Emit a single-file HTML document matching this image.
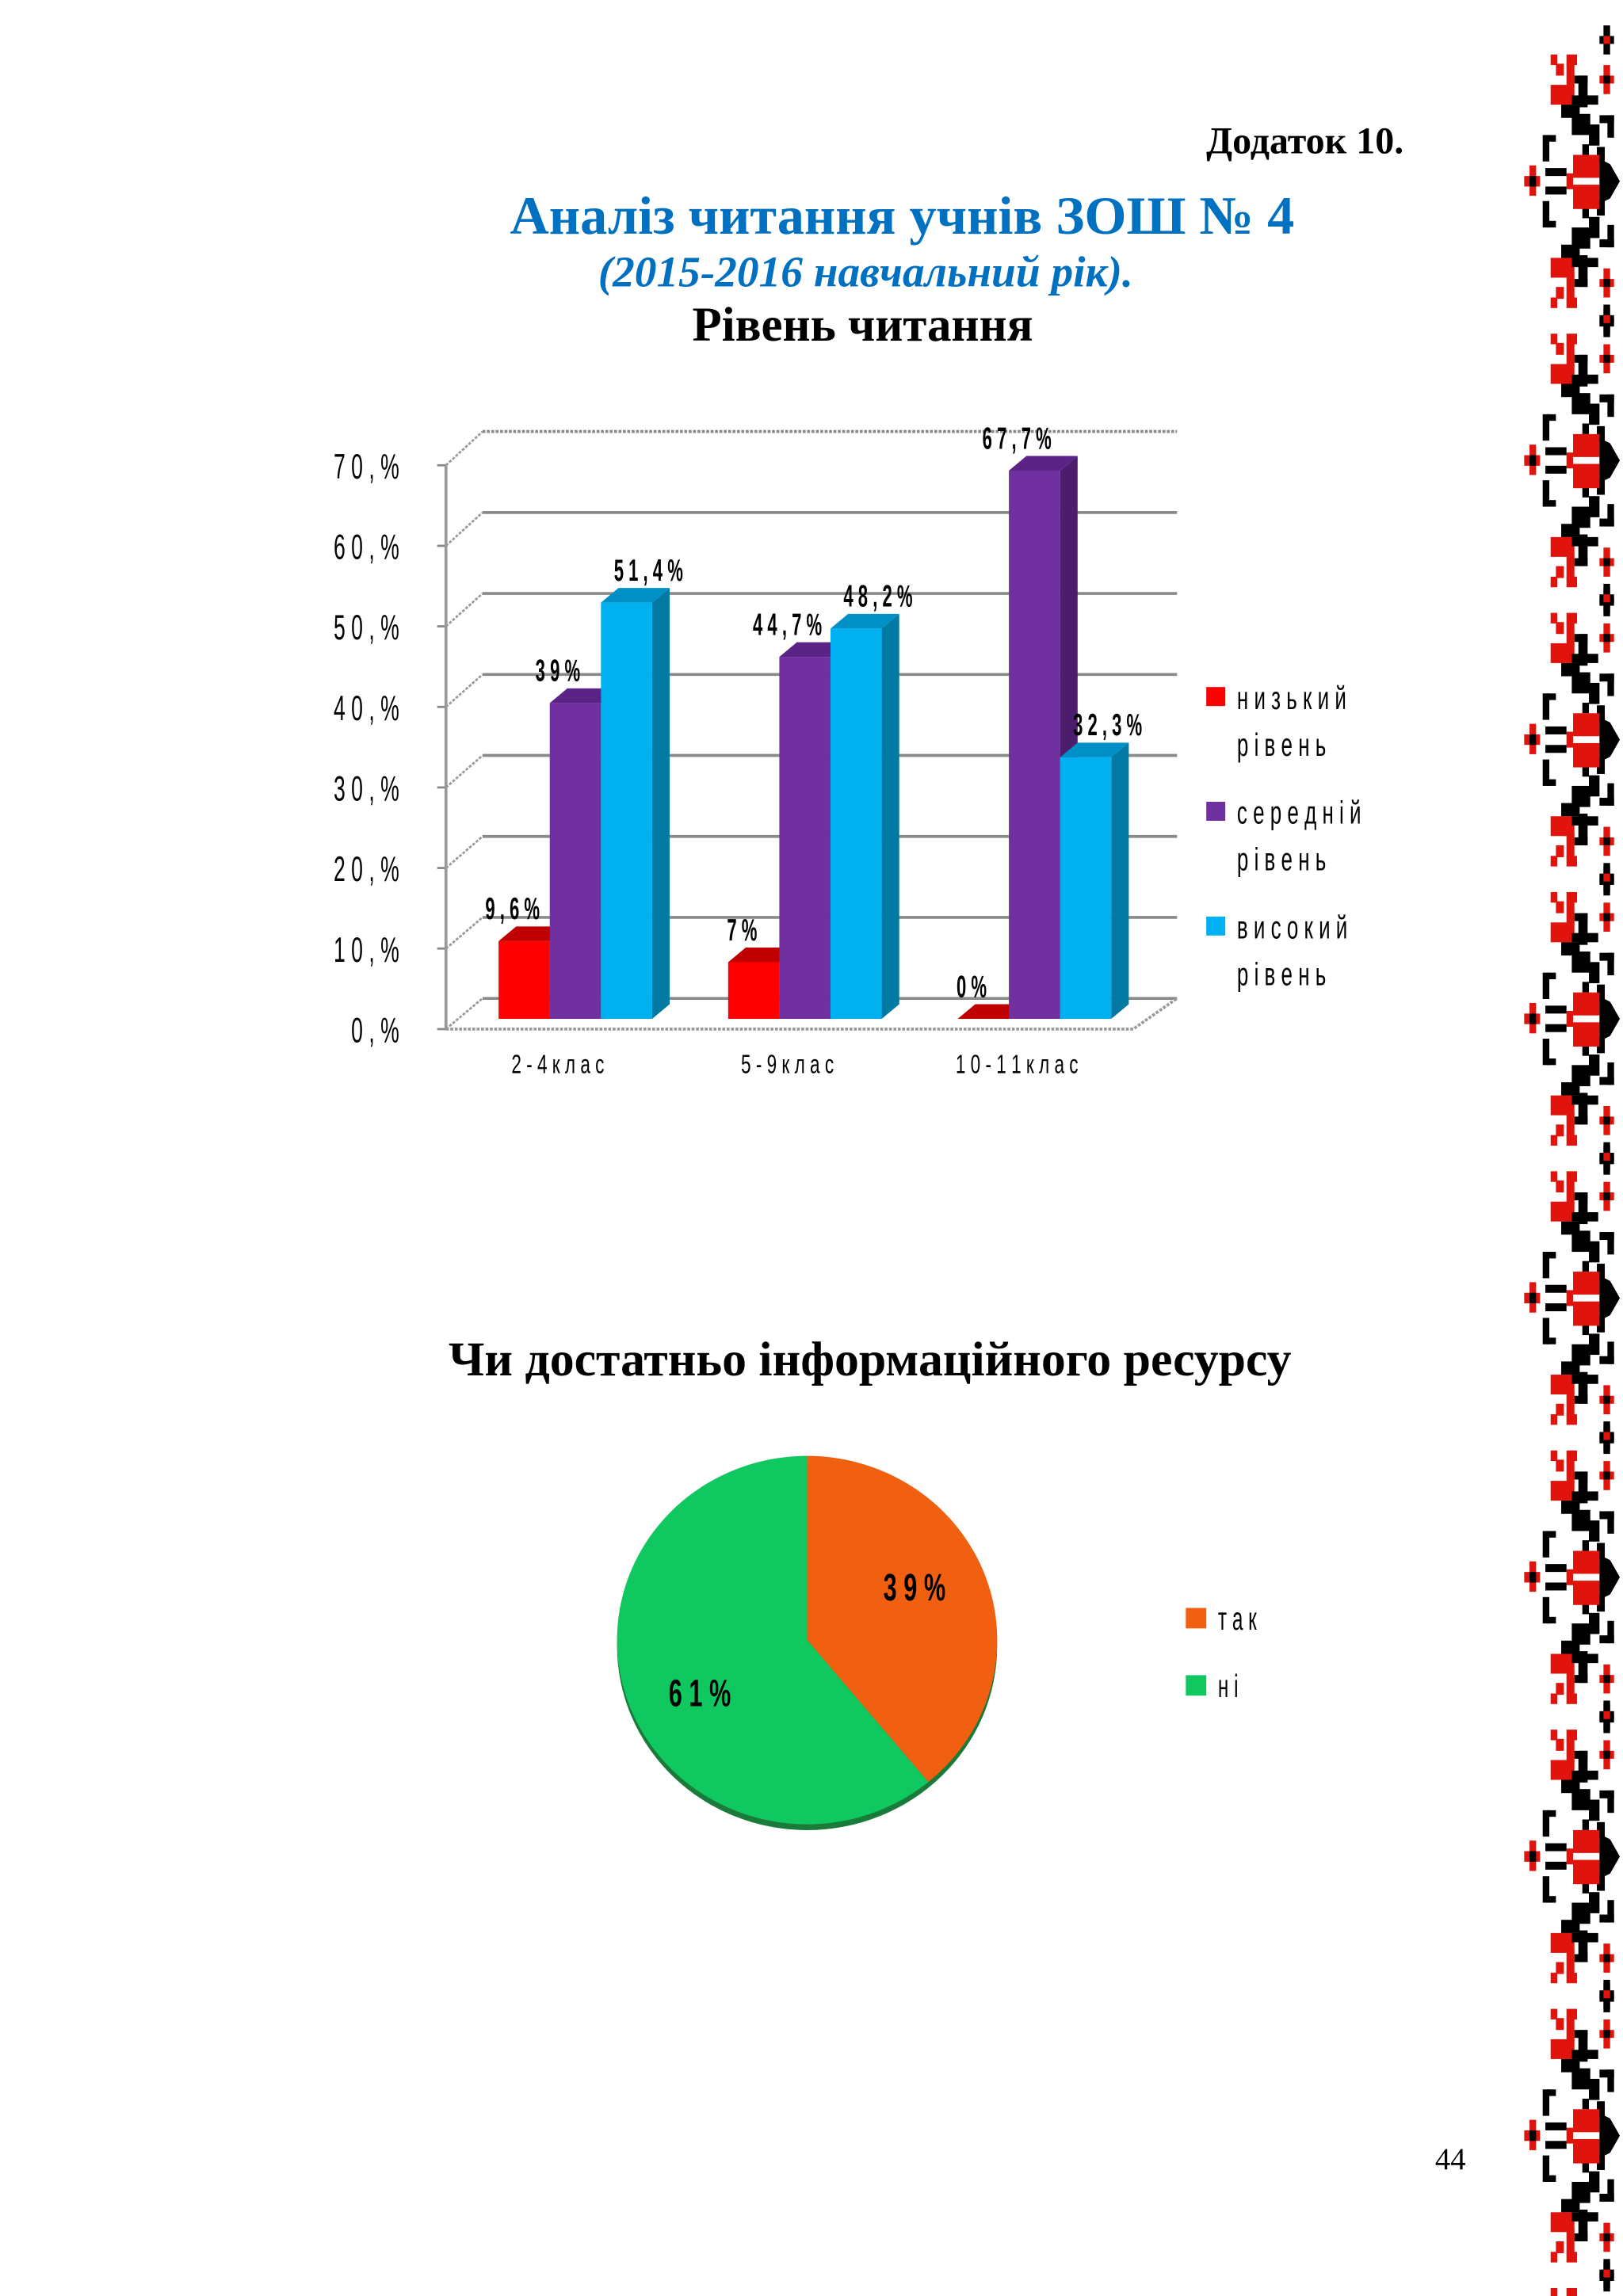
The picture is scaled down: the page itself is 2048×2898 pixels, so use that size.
<!DOCTYPE html>
<html><head><meta charset="utf-8">
<style>
html,body{margin:0;padding:0;background:#fff;width:2048px;height:2898px;overflow:hidden;}
svg{display:block;}
.serif{font-family:"Liberation Serif","DejaVu Serif",serif;}
.sans{font-family:"Liberation Sans","DejaVu Sans",sans-serif;}
</style></head>
<body>
<svg id="page" xmlns="http://www.w3.org/2000/svg" width="2048" height="2898" viewBox="0 0 1110 1570.7" preserveAspectRatio="none">
  <defs>
    <g id="motif-half">
      <rect x="415" y="135" width="55" height="30" fill="#000"/>
      <rect x="430" y="95" width="25" height="110" fill="#000"/>
      <rect x="430" y="135" width="25" height="30" fill="#e0140c"/>
      <rect x="415" y="285" width="55" height="30" fill="#e0140c"/>
      <rect x="430" y="245" width="25" height="110" fill="#e0140c"/>
      <rect x="430" y="285" width="25" height="30" fill="#000"/>
      <rect x="230" y="205" width="25" height="40" fill="#e0140c"/>
      <rect x="250" y="240" width="30" height="45" fill="#e0140c"/>
      <rect x="290" y="205" width="40" height="40" fill="#e0140c"/>
      <rect x="290" y="240" width="30" height="90" fill="#e0140c"/>
      <rect x="230" y="320" width="90" height="75" fill="#e0140c"/>
      <rect x="320" y="285" width="50" height="30" fill="#000"/>
      <rect x="335" y="285" width="35" height="120" fill="#000"/>
      <rect x="310" y="360" width="100" height="35" fill="#000"/>
      <rect x="270" y="395" width="70" height="50" fill="#000"/>
      <rect x="310" y="430" width="70" height="80" fill="#000"/>
      <rect x="375" y="470" width="40" height="80" fill="#000"/>
      <rect x="415" y="435" width="55" height="30" fill="#000"/>
      <rect x="445" y="435" width="25" height="85" fill="#000"/>
      <rect x="215" y="510" width="35" height="25" fill="#000"/>
      <rect x="200" y="510" width="25" height="100" fill="#000"/>
      <rect x="350" y="545" width="25" height="40" fill="#000"/>
      <rect x="405" y="555" width="30" height="60" fill="#000"/>
    </g>
    <g id="motif">
      <use href="#motif-half"/>
      <use href="#motif-half" transform="translate(0,1370) scale(1,-1)"/>
      <rect x="315" y="585" width="100" height="205" fill="#e0140c"/>
      <rect x="315" y="672" width="100" height="26" fill="#fff"/>
      <rect x="290" y="655" width="25" height="60" fill="#e0140c"/>
      <rect x="210" y="635" width="80" height="30" fill="#000"/>
      <rect x="210" y="705" width="80" height="30" fill="#000"/>
      <polygon points="415,600 455,620 492,685 455,750 415,770" fill="#000"/>
      <rect x="130" y="665" width="60" height="40" fill="#e0140c"/>
      <rect x="150" y="625" width="25" height="115" fill="#e0140c"/>
      <rect x="150" y="665" width="25" height="40" fill="#000"/>
    </g>
  </defs>

  <g id="border"></g>

  <text class="serif" x="960" y="105" text-anchor="end" font-size="26" font-weight="bold">Додаток 10.</text>
  <text class="serif" x="617" y="160" text-anchor="middle" font-size="37" font-weight="bold" fill="#0070c0">Аналіз читання учнів ЗОШ № 4</text>
  <text class="serif" x="592" y="196" text-anchor="middle" font-size="30" font-weight="bold" font-style="italic" fill="#0070c0">(2015-2016 навчальний рік).</text>
  <text class="serif" x="590" y="233" text-anchor="middle" font-size="33" font-weight="bold">Рівень читання</text>

  <g id="barchart"></g>

  <text class="serif" x="595" y="941" text-anchor="middle" font-size="33.5" font-weight="bold">Чи достатньо інформаційного ресурсу</text>
  <g id="piechart"></g>

  <text class="serif" x="992" y="1484" text-anchor="middle" font-size="21">44</text>
</svg>
<script>
var NS = "http://www.w3.org/2000/svg";
function mk(tag, attrs, parent){var e=document.createElementNS(NS,tag);for(var k in attrs)e.setAttribute(k,attrs[k]);parent.appendChild(e);return e;}
function ntext(parent,x,y,str,size,sx,anchor,weight){
  var gg=mk('g',{transform:'translate('+x+','+y+') scale('+sx+',1)'},parent);
  var t=mk('text',{x:0,y:0,'text-anchor':anchor||'start','font-size':size,'font-weight':weight||'normal','class':'sans'},gg);
  t.textContent=str;
  return t;
}

// ---- Bar chart data ----
var categories = ["2 - 4  к л а с", "5 - 9  к л а с", "1 0 - 1 1  к л а с"];
var seriesNames = ["н и з ь к и й|р і в е н ь", "с е р е д н і й|р і в е н ь", "в и с о к и й|р і в е н ь"];
var lowValues = [9.6, 7, 0];
var midValues = [39, 44.7, 67.7];
var highValues = [51.4, 48.2, 32.3];
var lowLabels = ["9 , 6 %", "7 %", "0 %"];
var midLabels = ["3 9 %", "4 4 , 7 %", "6 7 , 7 %"];
var highLabels = ["5 1 , 4 %", "4 8 , 2 %", "3 2 , 3 %"];
var yTicks = [0, 10, 20, 30, 40, 50, 60, 70];
var yTickLabels = ["0 , %", "1 0 , %", "2 0 , %", "3 0 , %", "4 0 , %", "5 0 , %", "6 0 , %", "7 0 , %"];

// ---- Pie data ----
var pieLabels = ["т а к", "н і"];
var pieValues = [39, 61];
var piePrinted = ["3 9 %", "6 1 %"];

(function(){
  var b=document.getElementById('border');
  for(var k=0;k<9;k++){
    var u=mk('use',{href:'#motif',transform:'translate(1084,'+(124+k*191)+') scale(0.1807) translate(-360,-685)'},b);
    
    
  }
})();

(function(){
  var g=document.getElementById('barchart');
  var frontBase=697, backBase=683, perPct=5.54;
  var axisX=305, backX0=330, backX1=805;
  function yBack(v){return backBase - v*perPct;}
  function yFront(v){return frontBase - v*perPct;}
  function yAxisT(v){return 704 - v*5.51;}
  yTicks.forEach(function(t,i){
    var l=mk('line',{x1:backX0,y1:yBack(t),x2:backX1,y2:yBack(t),stroke:'#8a8a8a','stroke-width':2,'stroke-dasharray':i==yTicks.length-1?'2,1':'none'},g);
    
    
    var d=mk('line',{x1:axisX,y1:yAxisT(t),x2:backX0,y2:yBack(t),stroke:'#9a9a9a','stroke-width':1.5,'stroke-dasharray':'2,1'},g);
    
    
    var tk=mk('line',{x1:axisX-6,y1:yAxisT(t),x2:axisX,y2:yAxisT(t),stroke:'#888','stroke-width':1.5},g);
    
    
    var tx=ntext(g,273,yAxisT(t)+9,yTickLabels[i],24,0.6,'end');
    
    
  });
  var ax=mk('line',{x1:axisX,y1:yAxisT(0),x2:axisX,y2:yAxisT(70),stroke:'#999','stroke-width':2},g);
  
  
  var fl=mk('polyline',{points:axisX+','+yAxisT(0)+' 775,'+yAxisT(0)+' '+backX1+','+yBack(0),fill:'none',stroke:'#9a9a9a','stroke-width':2,'stroke-dasharray':'2,1'},g);
  
  

  var series=[lowValues,midValues,highValues];
  var labels=[lowLabels,midLabels,highLabels];
  var fronts=['#ff0000','#7030a0','#00b0f0'];
  var tops=['#c00000','#5c2387','#0090c8'];
  var sides=['#a00000','#4b1d6c','#007aa3'];
  var labelShift=[-8,-12,15];
  var groupX0=341, groupStep=157, barW=35, dx=12, dy=-10;
  categories.forEach(function(c,ci){
    var gx=groupX0+ci*groupStep;
    for(var s=0;s<3;s++){
      var v=series[s][ci], x=gx+s*barW, top=yFront(v);
      var side=mk('polygon',{points:(x+barW)+','+top+' '+(x+barW+dx)+','+(top+dy)+' '+(x+barW+dx)+','+(frontBase+dy)+' '+(x+barW)+','+frontBase,fill:sides[s]},g);
      
      
      var tp=mk('polygon',{points:x+','+top+' '+(x+dx)+','+(top+dy)+' '+(x+barW+dx)+','+(top+dy)+' '+(x+barW)+','+top,fill:tops[s]},g);
      
      
      var r=mk('rect',{x:x,y:top,width:barW,height:Math.max(frontBase-top,0),fill:fronts[s]},g);
      
      
      var lb=ntext(g,x+barW/2+labelShift[s],top-15,labels[s][ci],21,0.57,'middle','bold');
      
      
    }
    var cl=ntext(g,gx+barW*1.5-12,734,c,18,0.68,'middle');
    
    
  });
  seriesNames.forEach(function(n,i){
    var ly=470+i*78.5;
    var sq=mk('rect',{x:825,y:ly,width:13,height:13,fill:fronts[i]},g);
    
    
    var parts=n.split('|');
    var t=ntext(g,846,ly+15,parts[0],22,0.64,'start');
    
    
    var t2=ntext(g,846,ly+47,parts[1],22,0.64,'start');
    
    
  });
})();

(function(){
  var g=document.getElementById('piechart');
  var cx=552, cy=1122, rx=130, ry=126;
  var colors=['#f06010','#10c860'];
  var total=pieValues.reduce(function(a,b){return a+b;},0);
  function pt(a){return [cx+rx*Math.sin(a), cy-ry*Math.cos(a)];}
  var sh=mk('ellipse',{cx:cx,cy:cy+4,rx:rx,ry:ry,fill:'#1a7a3a'},g);
  
  
  var a0=0;
  pieValues.forEach(function(v,i){
    var a1=a0+v/total*2*Math.PI;
    var p0=pt(a0), p1=pt(a1), large=(a1-a0)>Math.PI?1:0;
    var p=mk('path',{d:'M'+cx+','+cy+' L'+p0[0]+','+p0[1]+' A'+rx+','+ry+' 0 '+large+' 1 '+p1[0]+','+p1[1]+' Z',fill:colors[i]},g);
    
    
    var mid=(a0+a1)/2;
    var lx=cx+rx*0.6*Math.sin(mid), ly=cy-ry*0.85*Math.cos(mid);
    var t=ntext(g,lx,ly+9,piePrinted[i],26,0.64,'middle','bold');
    
    
    a0=a1;
  });
  pieLabels.forEach(function(n,i){
    var ly=1100+i*46;
    var sq=mk('rect',{x:811,y:ly,width:14,height:14,fill:colors[i]},g);
    
    
    var t=ntext(g,833,ly+15,n,22,0.6,'start');
    
    
  });
})();
</script>
</body></html>
